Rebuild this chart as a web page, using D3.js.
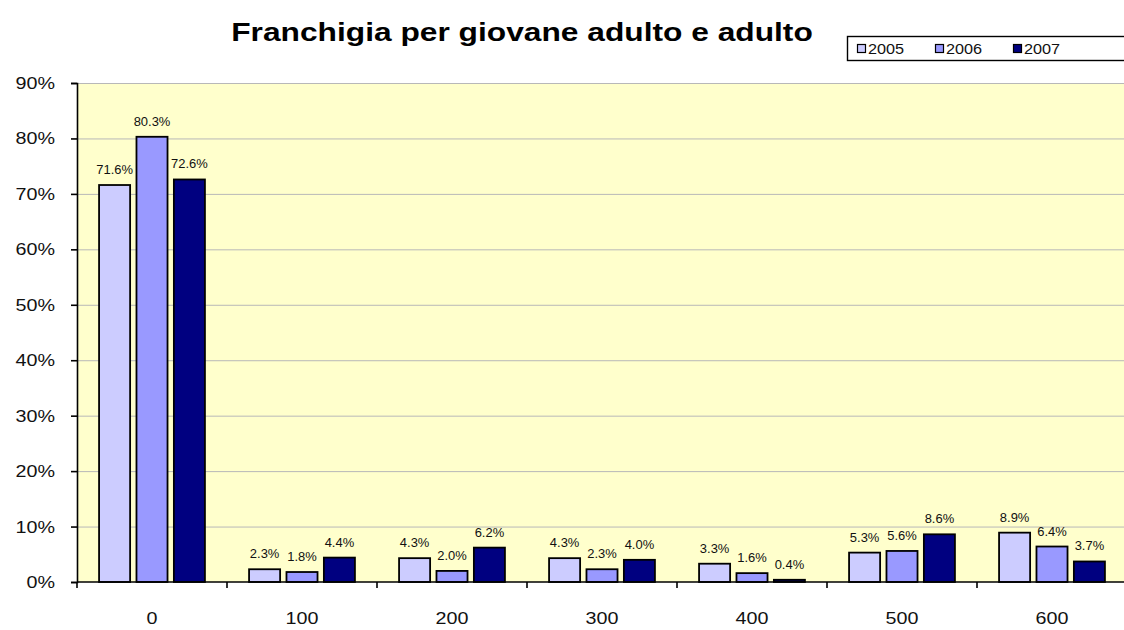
<!DOCTYPE html>
<html>
<head>
<meta charset="utf-8">
<script src="https://cdn.jsdelivr.net/npm/d3@7"></script>
<style>
  html, body { margin: 0; padding: 0; background: #ffffff; }
  svg { display: block; font-family: Arial, "Liberation Sans", sans-serif; }
</style>
</head>
<body>
<svg id="chart" width="1124" height="630"></svg>
<script>
const categories = ["0", "100", "200", "300", "400", "500", "600"];
const seriesNames = ["2005", "2006", "2007"];
const values2005 = [71.6, 2.3, 4.3, 4.3, 3.3, 5.3, 8.9];
const values2006 = [80.3, 1.8, 2.0, 2.3, 1.6, 5.6, 6.4];
const values2007 = [72.6, 4.4, 6.2, 4.0, 0.4, 8.6, 3.7];
const yTicks = [0, 10, 20, 30, 40, 50, 60, 70, 80, 90];
const titleText = "Franchigia per giovane adulto e adulto";

const colors = ["#CCCCFF", "#9999FF", "#000080"];
const seriesValues = [values2005, values2006, values2007];
const textColor = "#111111";

const svg = d3.select("#chart");
const margin = { left: 77, top: 83, right: -3, bottom: 48 };
const W = 1124, H = 630;
const x0 = margin.left, x1 = W - margin.right;
const y0 = H - margin.bottom, y1 = margin.top;

const x = d3.scaleBand().domain(categories).range([x0, x1]).paddingInner(0).paddingOuter(0);
const inner = d3.scaleBand().domain(seriesNames).range([0, x.bandwidth()]).paddingInner(0.17).paddingOuter(0.59);
const y = d3.scaleLinear().domain([0, 90]).range([y0, y1]);

function stretchedText(g, tx, ty, str, size, anchor, weight, stretch) {
  return g.append("text")
    .attr("transform", `translate(${tx},${ty}) scale(${stretch || 1.16},1)`)
    .attr("text-anchor", anchor)
    .attr("font-size", size)
    .attr("font-weight", weight || "normal")
    .attr("fill", textColor)
    .text(str);
}

// plot background
svg.append("rect").attr("x", x0).attr("y", y1).attr("width", x1 - x0).attr("height", y0 - y1).attr("fill", "#FFFFCC");

// gridlines
svg.append("g").selectAll("line").data(yTicks.filter(d => d > 0)).join("line")
  .attr("x1", x0).attr("x2", x1)
  .attr("y1", d => y(d) + 0.5).attr("y2", d => y(d) + 0.5)
  .attr("stroke", "#B8B8B8").attr("stroke-width", 1);

// bars
const groups = svg.append("g").selectAll("g").data(seriesNames).join("g")
  .attr("fill", (d, i) => colors[i]);
groups.selectAll("rect").data((s, si) => categories.map((c, ci) => ({ s, c, v: seriesValues[si][ci] })))
  .join("rect")
  .attr("x", d => x(d.c) + inner(d.s))
  .attr("width", inner.bandwidth())
  .attr("y", d => y(d.v))
  .attr("height", d => y0 - y(d.v))
  .attr("stroke", "#000000").attr("stroke-width", 1.8);

// data labels
const labels = svg.append("g");
seriesNames.forEach((s, si) => {
  categories.forEach((c, ci) => {
    const v = seriesValues[si][ci];
    stretchedText(labels, x(c) + inner(s) + inner.bandwidth() / 2, y(v) - 11, v.toFixed(1) + "%", 12, "middle", "normal", 1.08);
  });
});

// y axis (ticks via d3 axis, labels drawn stretched)
const yAxis = d3.axisLeft(y).tickValues(yTicks).tickFormat("").tickSize(6);
const ya = svg.append("g").attr("transform", `translate(${x0},0)`).call(yAxis);
ya.select(".domain").attr("stroke", "#000").attr("stroke-width", 1.6);
ya.selectAll(".tick line").attr("stroke", "#000").attr("stroke-width", 1.6);
const yl = svg.append("g");
yTicks.forEach(t => stretchedText(yl, 55, y(t) + 6, t + "%", 17, "end"));

// x axis baseline and ticks at category boundaries
svg.append("line").attr("x1", x0).attr("x2", x1).attr("y1", y0).attr("y2", y0).attr("stroke", "#000").attr("stroke-width", 1.6);
svg.append("g").selectAll("line").data(categories).join("line")
  .attr("x1", d => x(d)).attr("x2", d => x(d))
  .attr("y1", y0).attr("y2", y0 + 6)
  .attr("stroke", "#000").attr("stroke-width", 1.6);
const xl = svg.append("g");
categories.forEach(c => stretchedText(xl, x(c) + x.bandwidth() / 2, y0 + 42, c, 17, "middle"));

// title
stretchedText(svg, 522, 41, titleText, 26, "middle", "bold", 1.22).attr("fill", "#000");

// legend
const lg = svg.append("g");
lg.append("rect").attr("x", 847.5).attr("y", 36.5).attr("width", 290).attr("height", 24)
  .attr("fill", "#fff").attr("stroke", "#000").attr("stroke-width", 1.4);
seriesNames.forEach((s, i) => {
  const lx = 857 + i * 78;
  lg.append("rect").attr("x", lx + 0.5).attr("y", 44.5).attr("width", 8).attr("height", 8)
    .attr("fill", colors[i]).attr("stroke", "#000").attr("stroke-width", 1.2);
  stretchedText(lg, lx + 11, 54, s, 14, "start");
});
</script>
</body>
</html>
